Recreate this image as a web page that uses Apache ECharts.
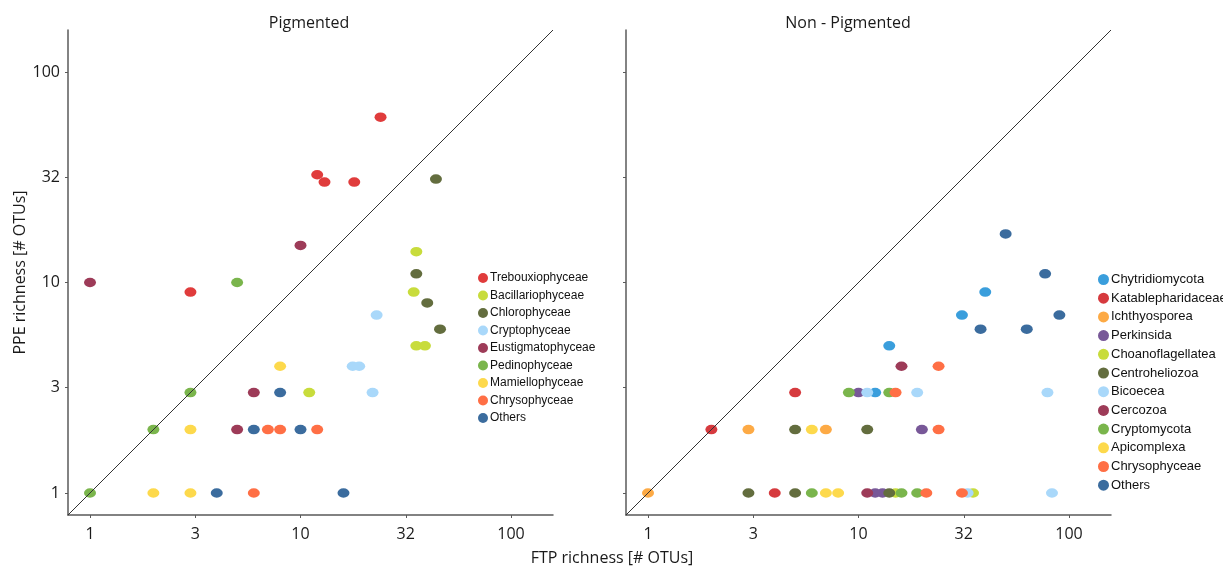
<!DOCTYPE html>
<html>
<head>
<meta charset="utf-8">
<title>PPE vs FTP richness</title>
<script src="https://cdn.jsdelivr.net/npm/echarts@6/dist/echarts.min.js"></script>
<style>
  html, body { margin: 0; padding: 0; background: #fff; }
  #chart { width: 1223px; height: 567px; }
</style>
</head>
<body>
<div id="chart"></div>
<script>
// axis range + ticks (richness in # OTUs, both axes log scale)
const axisMin = 0.786;
const axisMax = 158.3;
const tickValues = [1, 3.162, 10, 31.62, 100];

// Pigmented panel: [FTP richness, PPE richness]
const pigNames = [
  'Trebouxiophyceae', 'Bacillariophyceae', 'Chlorophyceae', 'Cryptophyceae',
  'Eustigmatophyceae', 'Pedinophyceae', 'Mamiellophyceae', 'Chrysophyceae', 'Others',
];
const trebouxiophyceae = [[24, 61], [12, 32.5], [13, 30], [18, 30], [3, 9]];
const bacillariophyceae = [[35.5, 14], [34.5, 9], [11, 3], [35.5, 5], [39, 5]];
const chlorophyceae = [[44, 31], [35.5, 11], [40, 8], [46, 6]];
const cryptophyceae = [[23, 7], [17.7, 4], [19, 4], [22, 3]];
const eustigmatophyceae = [[1, 10], [10, 15], [6, 3], [5, 2]];
const pedinophyceae = [[5, 10], [3, 3], [2, 2], [1, 1]];
const mamiellophyceae = [[8, 4], [3, 2], [2, 1], [3, 1]];
const pigChrysophyceae = [[7, 2], [8, 2], [12, 2], [6, 1]];
const pigOthers = [[8, 3], [6, 2], [10, 2], [4, 1], [16, 1]];

// Non - Pigmented panel
const nonPigNames = [
  'Chytridiomycota', 'Katablepharidaceae', 'Ichthyosporea', 'Perkinsida',
  'Choanoflagellatea', 'Centroheliozoa', 'Bicoecea', 'Cercozoa',
  'Cryptomycota', 'Apicomplexa', 'Chrysophyceae', 'Others',
];
const chytridiomycota = [[40, 9], [31, 7], [14, 5], [12, 3]];
const katablepharidaceae = [[5, 3], [2, 2], [4, 1]];
const ichthyosporea = [[3, 2], [7, 2], [1, 1]];
const perkinsida = [[10, 3], [20, 2], [12, 1], [13, 1]];
const choanoflagellatea = [[15, 1], [35, 1]];
const centroheliozoa = [[5, 2], [11, 2], [3, 1], [5, 1], [14, 1]];
const bicoecea = [[11, 3], [19, 3], [79, 3], [33, 1], [83, 1]];
const cercozoa = [[16, 4], [11, 1]];
const cryptomycota = [[9, 3], [14, 3], [6, 1], [16, 1], [19, 1]];
const apicomplexa = [[6, 2], [7, 1], [8, 1]];
const nonPigChrysophyceae = [[24, 4], [15, 3], [24, 2], [21, 1], [31, 1]];
const nonPigOthers = [[50, 17], [77, 11], [90, 7], [38, 6], [63, 6]];

const pigData = [
  trebouxiophyceae, bacillariophyceae, chlorophyceae, cryptophyceae,
  eustigmatophyceae, pedinophyceae, mamiellophyceae, pigChrysophyceae, pigOthers,
];
const nonPigData = [
  chytridiomycota, katablepharidaceae, ichthyosporea, perkinsida,
  choanoflagellatea, centroheliozoa, bicoecea, cercozoa,
  cryptomycota, apicomplexa, nonPigChrysophyceae, nonPigOthers,
];

const pigColors = [
  '#e03c3c', '#c8dc3c', '#636d3e', '#a9d8fa', '#9d3b58',
  '#7ab54c', '#fdd94c', '#ff6f45', '#3b6c9e',
];
const nonPigColors = [
  '#3a9edc', '#d63a3e', '#fdaa45', '#785898', '#c8dc3c', '#636d3e',
  '#a9d8fa', '#9d3b58', '#7ab54c', '#fdd94c', '#ff6f45', '#3b6c9e',
];

const ellipse = 'path://M0,1A1,1,0,1,1,2,1A1,1,0,1,1,0,1Z';
const textFont = '"Open Sans", "DejaVu Sans", sans-serif';
const legendFont = '"Liberation Sans", Arial, sans-serif';

const chart = echarts.init(document.getElementById('chart'));

// data is plotted on log10 axes
function toLog(points) {
  return points.map(([x, y]) => [Math.log10(x), Math.log10(y)]);
}

function makeAxis(gridIndex, showLabels) {
  return {
    type: 'value',
    gridIndex,
    min: Math.log10(axisMin),
    max: Math.log10(axisMax),
    splitLine: { show: false },
    axisLine: { show: true, onZero: false, lineStyle: { color: '#5a5a5a', width: 1.5 } },
    axisTick: {
      show: true,
      length: 3,
      customValues: tickValues.map(Math.log10),
      lineStyle: { color: '#5a5a5a' },
    },
    axisLabel: {
      show: showLabels,
      customValues: tickValues.map(Math.log10),
      formatter: (v) => String(Math.round(Math.pow(10, v))),
      color: '#1a1a1a',
      fontSize: 16,
      fontFamily: textFont,
    },
  };
}

function diagonal(idx) {
  const lo = Math.log10(axisMin);
  const hi = Math.log10(axisMax);
  return {
    type: 'line',
    name: 'diag' + idx,
    xAxisIndex: idx,
    yAxisIndex: idx,
    data: [[lo, lo], [hi, hi]],
    showSymbol: false,
    silent: true,
    lineStyle: { color: '#333', width: 1 },
  };
}

function scatterSeries(names, data, colors, idx) {
  return names.map((name, i) => ({
    type: 'scatter',
    name,
    xAxisIndex: idx,
    yAxisIndex: idx,
    data: toLog(data[i]),
    symbol: ellipse,
    symbolSize: [12, 9.5],
    itemStyle: { color: colors[i], opacity: 1 },
  }));
}

const xLeft = makeAxis(0, true);
const xRight = makeAxis(1, true);
const yLeft = makeAxis(0, true);
yLeft.axisLabel.margin = 8;
yLeft.axisLabel.padding = [0, 0, 9, 0];
yLeft.name = 'PPE richness [# OTUs]';
yLeft.nameLocation = 'middle';
yLeft.nameGap = 40;
yLeft.nameTextStyle = { fontSize: 16, color: '#1a1a1a', fontFamily: textFont };
const yRight = makeAxis(1, false);
xLeft.axisLabel.margin = 11;
xRight.axisLabel.margin = 11;

const option = {
  animation: false,
  backgroundColor: '#fff',
  title: [
    { text: 'Pigmented', left: 309, top: 15, textAlign: 'center', padding: 0,
      textStyle: { fontSize: 16, fontWeight: 'normal', color: '#1a1a1a', fontFamily: textFont } },
    { text: 'Non - Pigmented', left: 848, top: 15, textAlign: 'center', padding: 0,
      textStyle: { fontSize: 16, fontWeight: 'normal', color: '#1a1a1a', fontFamily: textFont } },
    { text: 'FTP richness [# OTUs]', left: 612, top: 550, textAlign: 'center', padding: 0,
      textStyle: { fontSize: 16, fontWeight: 'normal', color: '#1a1a1a', fontFamily: textFont } },
  ],
  legend: [
    {
      data: pigNames,
      orient: 'vertical',
      left: 478,
      top: 272,
      itemWidth: 12,
      itemHeight: 10,
      itemGap: 5.5,
      icon: ellipse,
      padding: 0,
      textStyle: { fontSize: 12, lineHeight: 12, color: '#111', fontFamily: legendFont, padding: [0, 0, 0, -4] },
    },
    {
      data: nonPigNames,
      orient: 'vertical',
      left: 1098,
      top: 273,
      itemWidth: 13,
      itemHeight: 11,
      itemGap: 5.7,
      icon: ellipse,
      padding: 0,
      textStyle: { fontSize: 13, lineHeight: 13, color: '#111', fontFamily: legendFont, padding: [0, 0, 0, -4] },
    },
  ],
  grid: [
    { left: 68, top: 30, width: 485, height: 485 },
    { left: 626, top: 30, width: 485, height: 485 },
  ],
  xAxis: [xLeft, xRight],
  yAxis: [yLeft, yRight],
  series: [
    diagonal(0),
    diagonal(1),
    ...scatterSeries(pigNames, pigData, pigColors, 0),
    ...scatterSeries(nonPigNames, nonPigData, nonPigColors, 1),
  ],
};

chart.setOption(option);
</script>
</body>
</html>
